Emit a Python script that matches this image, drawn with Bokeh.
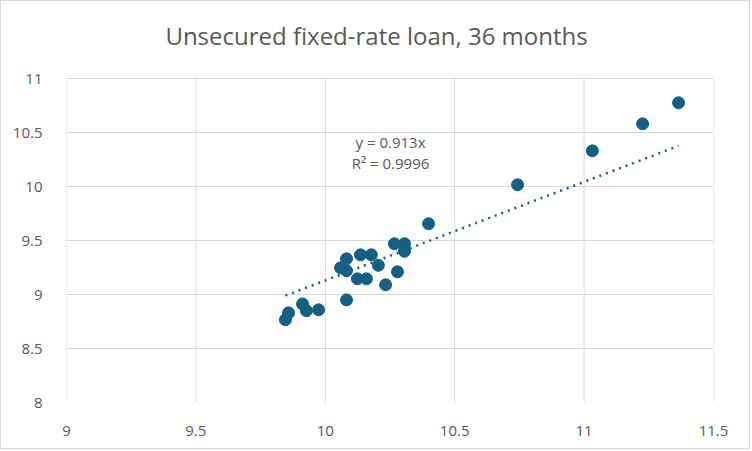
from bokeh.plotting import figure
from bokeh.models import FixedTicker, Label
from bokeh.embed import file_html
from bokeh.resources import INLINE

# observed rates (x) vs modelled rates (y)
x_vals = [9.846, 9.858, 9.912, 9.927, 9.974, 10.082, 10.059, 10.082, 10.082, 10.136,
          10.124, 10.159, 10.178, 10.205, 10.233, 10.279, 10.267, 10.306, 10.306, 10.399,
          10.743, 11.032, 11.226, 11.365]
y_vals = [8.766, 8.83, 8.913, 8.85, 8.858, 8.95, 9.247, 9.33, 9.22, 9.367,
          9.145, 9.145, 9.367, 9.27, 9.09, 9.21, 9.47, 9.47, 9.40, 9.655,
          10.016, 10.33, 10.58, 10.775]
slope = 0.913
r_squared = "0.9996"
title = "Unsecured fixed-rate loan, 36 months"

x_ticks = [9, 9.5, 10, 10.5, 11, 11.5]
x_labels = ["9", "9.5", "10", "10.5", "11", "11.5"]
y_ticks = [8, 8.5, 9, 9.5, 10, 10.5, 11]
y_labels = ["8", "8.5", "9", "9.5", "10", "10.5", "11"]

blue = "#156082"
grey = "#595959"
grid = "#d9d9d9"
font = "Open Sans"

# the frame runs up to the top edge so the title can sit inside it
y_top = 11 + 77 / 108
p = figure(width=750, height=449, x_range=(9, 11.5), y_range=(8, y_top),
           output_backend="svg", toolbar_location=None,
           min_border_left=65, min_border_right=38, min_border_top=0, min_border_bottom=48)
p.styles = {"border": "1px solid #d9d9d9"}

p.outline_line_color = None
p.xgrid.grid_line_color = None
p.ygrid.grid_line_color = grid
# vertical grid lines only over the data area
p.segment(x0=x_ticks, y0=[y_ticks[0]] * len(x_ticks), x1=x_ticks, y1=[y_ticks[-1]] * len(x_ticks),
          line_color=grid, line_width=1)

p.xaxis.ticker = FixedTicker(ticks=x_ticks)
p.yaxis.ticker = FixedTicker(ticks=y_ticks)
p.xaxis.major_label_overrides = dict(zip(x_ticks, x_labels))
p.yaxis.major_label_overrides = dict(zip(y_ticks, y_labels))
for ax in (p.xaxis, p.yaxis):
    ax.axis_line_color = None
    ax.major_tick_line_color = None
    ax.minor_tick_line_color = None
    ax.major_label_text_font = font
    ax.major_label_text_font_size = "15px"
    ax.major_label_text_color = grey
p.xaxis.major_label_standoff = 17
p.yaxis.major_label_standoff = 18

# linear trendline through origin
x0, x1 = min(x_vals), max(x_vals)
p.line([x0, x1], [slope * x0, slope * x1], line_color=blue, line_width=2.5, line_dash="2 5")

p.scatter(x_vals, y_vals, size=12, fill_color=blue, line_color=blue)

p.add_layout(Label(x=10.198, y=11.398, text=title, text_align="center",
                   text_baseline="middle", text_font=font, text_font_size="24px",
                   text_color=grey))

p.add_layout(Label(x=10.252, y=10.414, text=f"y = {slope}x", text_align="center",
                   text_baseline="middle", text_font=font, text_font_size="15px",
                   text_color=grey))
p.add_layout(Label(x=10.252, y=10.22, text=f"R² = {r_squared}", text_align="center",
                   text_baseline="middle", text_font=font, text_font_size="15px",
                   text_color=grey))

open("out.html", "w").write(file_html(p, INLINE))
